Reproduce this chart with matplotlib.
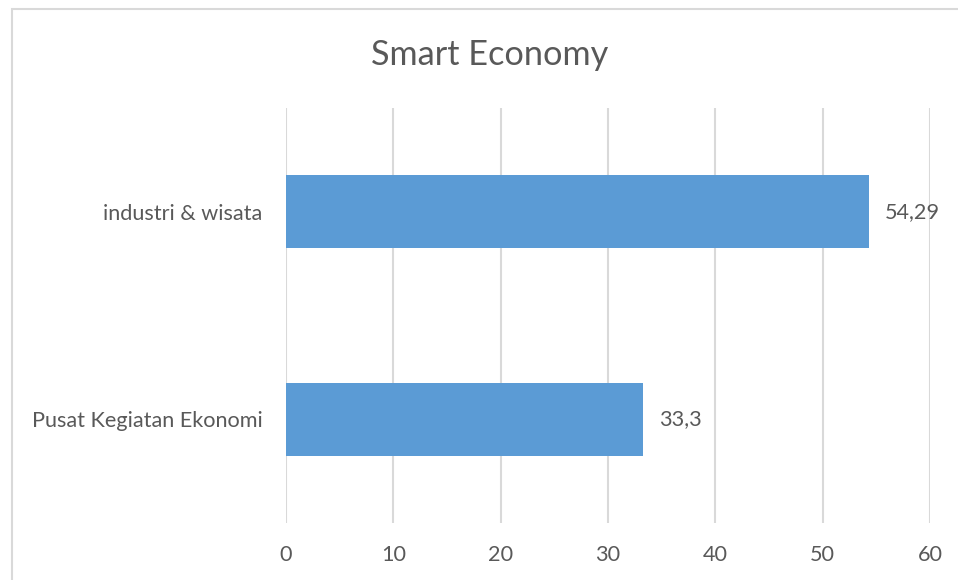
import matplotlib.pyplot as plt
from matplotlib.patches import Rectangle

# Smart Economy scores per category
categories = ['Pusat Kegiatan Ekonomi', 'industri & wisata']
values = [33.3, 54.29]
value_labels = ['33,3', '54,29']
ticks = [0, 10, 20, 30, 40, 50, 60]

plt.rcParams['font.family'] = ['Lato', 'DejaVu Sans']

fig = plt.figure(figsize=(9.58, 5.8), dpi=100)
ax = fig.add_axes([0.2985, 0.0983, 0.6723, 0.7155])

bar_color = '#5B9BD5'
text_color = '#595959'
grid_color = '#D9D9D9'

ax.barh(range(len(categories)), values, height=0.35, color=bar_color, zorder=3)
ax.set_xlim(0, 60)
ax.set_ylim(-0.5, 1.5)
ax.set_xticks(ticks)
ax.set_xticklabels([str(t) for t in ticks])
ax.set_yticks(range(len(categories)))
ax.set_yticklabels(categories)

ax.xaxis.grid(True, color=grid_color, linewidth=1.5, zorder=0)
for s in ax.spines.values():
    s.set_visible(False)
ax.tick_params(axis='both', length=0, labelsize=15.6, colors=text_color)
ax.tick_params(axis='x', pad=16)
ax.tick_params(axis='y', pad=17)

# data labels
for i, (v, lab) in enumerate(zip(values, value_labels)):
    ax.text(v + 1.5, i, lab, va='center', ha='left', fontsize=15.6, color=text_color)

fig.text(0.511, 0.905, 'Smart Economy', ha='center', va='center',
         fontsize=24.7, color=text_color)

# chart area border
fig.patches.append(Rectangle((11.5 / 958, -0.1), 1.2, 1 - 9.5 / 580 + 0.1,
                             transform=fig.transFigure, fill=False,
                             edgecolor=grid_color, linewidth=1.5))

fig.savefig('out.png', dpi=100)
